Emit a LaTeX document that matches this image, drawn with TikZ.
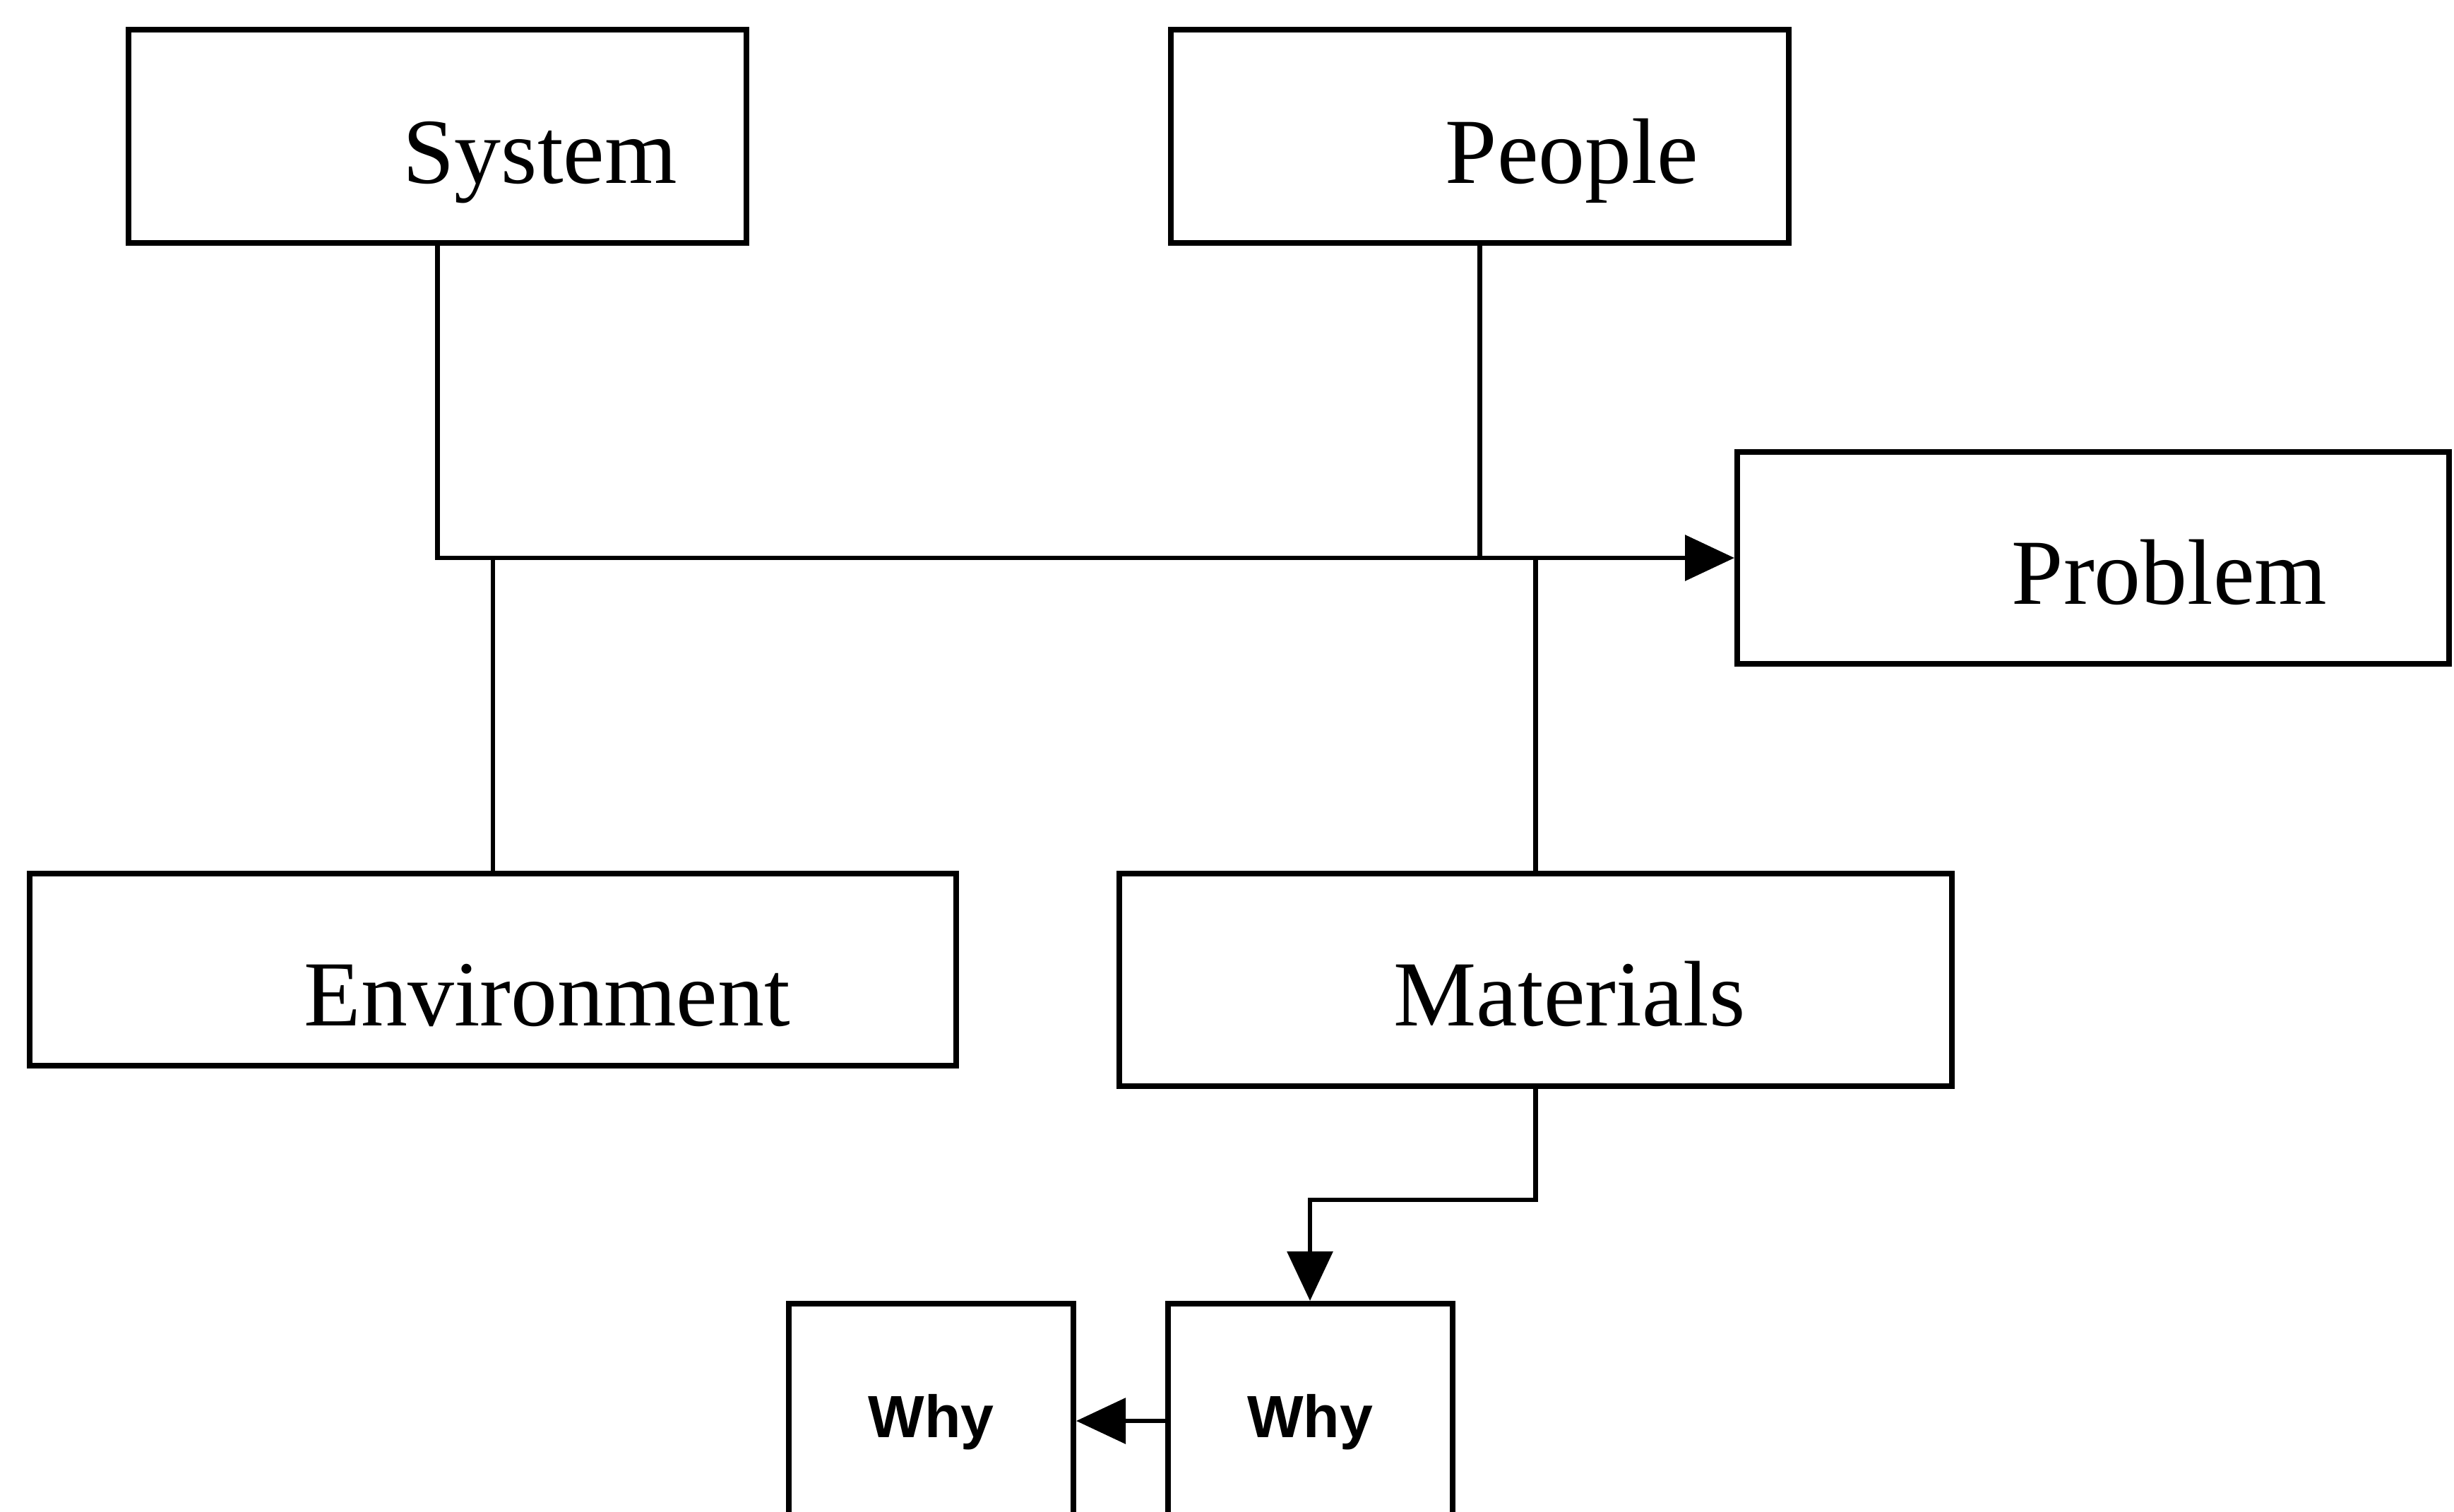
\documentclass[tikz,border=0pt]{standalone}
\usepackage{fontspec}
\setmainfont{Liberation Serif}
\newfontfamily\whyfont{Liberation Sans}
\usetikzlibrary{arrows.meta,calc}

\tikzset{
  cause/.style={draw, line width=0.8mm, inner sep=0pt},
  tag/.style={anchor=base west, inner sep=0pt, font=\fontsize{37.5}{44}\selectfont},
  whybox/.style={draw, line width=0.8mm, inner sep=0pt, minimum width=40.3mm, minimum height=33.2mm,
    text depth=1.5mm, font=\whyfont\bfseries\fontsize{24}{28}\selectfont},
  link/.style={line width=0.65mm}
}

\begin{document}
\begin{tikzpicture}[x=1mm, y=-1mm, >={Triangle[length=7mm, width=6.4mm]}]
  \useasboundingbox (0,0) rectangle (347.5,214);
  \clip (0,0) rectangle (347.5,214);
  \def\pad{39.2}

  \node[cause, minimum width=87.5mm, minimum height=30.2mm] (system) at (61.95,19.3) {};
  \node[cause, minimum width=87.5mm, minimum height=30.2mm] (people) at (209.55,19.3) {};
  \node[cause, minimum width=100.8mm, minimum height=30mm] (problem) at (296.4,79) {};
  \node[cause, minimum width=131.2mm, minimum height=27.2mm] (environment) at (69.8,137.3) {};
  \node[cause, minimum width=117.9mm, minimum height=30.1mm] (materials) at (217.45,138.75) {};

  \node[tag] (systemtxt) at ($(system.west)+(\pad,6.6)$) {System};
  \node[tag] (peopletxt) at ($(people.west)+(\pad,6.6)$) {People};
  \node[tag] (problemtxt) at ($(problem.west)+(\pad,6.5)$) {Problem};
  \node[tag] (environmenttxt) at ($(environment.west)+(\pad,7.9)$) {Environment};
  \node[tag] (materialstxt) at ($(materials.west)+(\pad,6.45)$) {Materials};

  \node[whybox] (why1) at (131.85,201.2) {Why};
  \node[whybox] (why2) at (185.5,201.2) {Why};

  % causes feed the problem
  \draw[link, ->] (system.south) |- (problem.west);
  \draw[link] (people.south) -- (people.south |- problem.west);
  \draw[link] (environment.north) -- (environment.north |- problem.west);
  \draw[link] (materials.north) -- (materials.north |- problem.west);

  % asking why
  \draw[link, ->] (materials.south) -- ++(0,15.7) -| (why2.north);
  \draw[link, ->] (why2.west) -- (why1.east);
\end{tikzpicture}
\end{document}
